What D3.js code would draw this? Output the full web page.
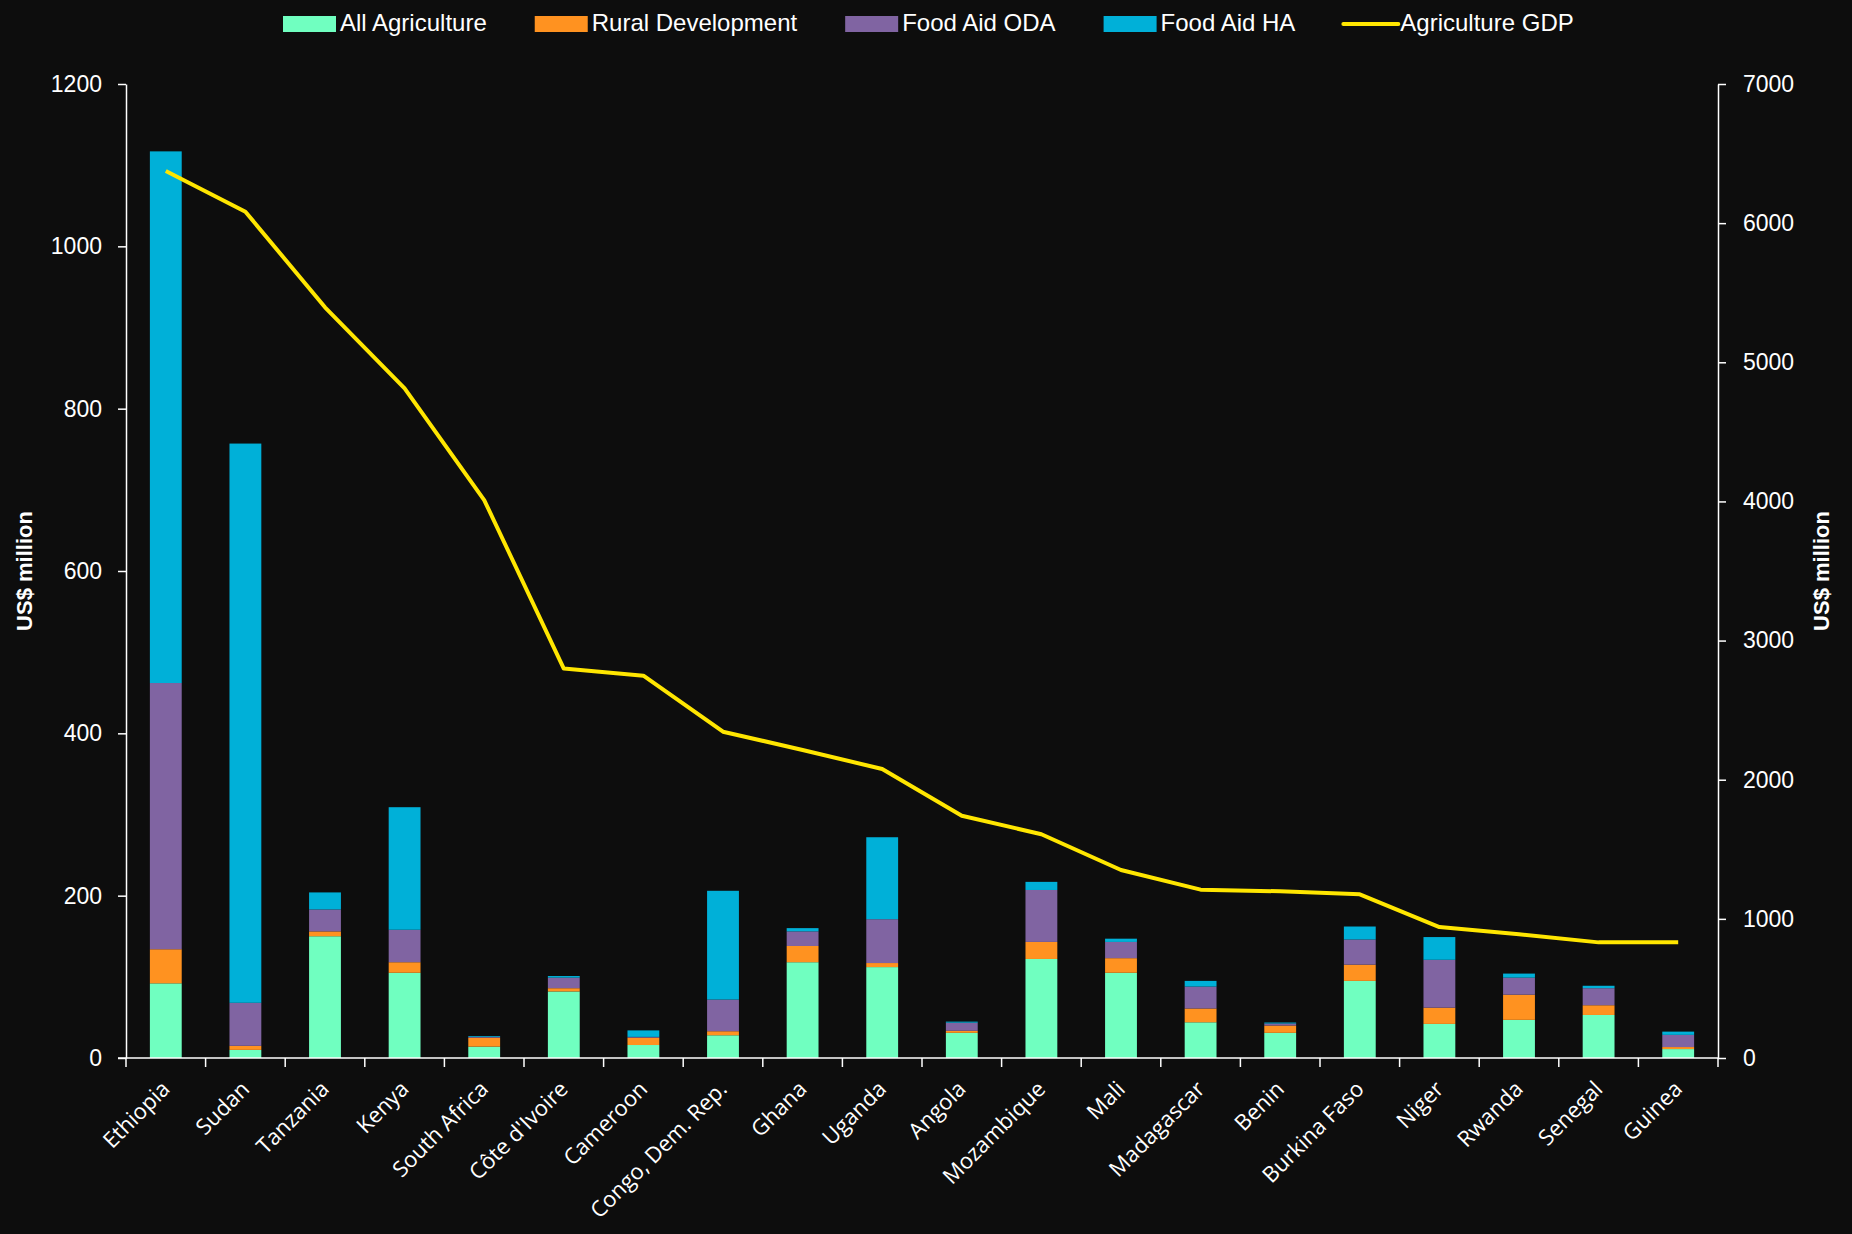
<!DOCTYPE html>
<html>
<head>
<meta charset="utf-8">
<script src="https://cdn.jsdelivr.net/npm/d3@7"></script>
<style>
  html, body { margin: 0; padding: 0; background: #0d0d0d; }
  svg { display: block; }
</style>
</head>
<body>
<svg id="chart" width="1852" height="1234"></svg>
<script>
const countries = ["Ethiopia","Sudan","Tanzania","Kenya","South Africa","Côte d'Ivoire","Cameroon","Congo, Dem. Rep.","Ghana","Uganda","Angola","Mozambique","Mali","Madagascar","Benin","Burkina Faso","Niger","Rwanda","Senegal","Guinea"];
const allAgriculture  = [92, 10, 150, 105, 14, 82, 16, 28, 118, 112, 31, 122, 105, 44, 31, 95, 42, 47, 53, 11];
const ruralDevelopment = [42, 5, 6, 13, 11, 4, 9, 5, 20, 5, 2.5, 21, 18, 17, 9, 20, 20, 31, 12, 2.5];
const foodAidODA      = [328, 53, 27, 40, 1, 13, 1, 39, 18, 54, 10, 64, 20, 27, 2.5, 31, 59, 21, 21, 15];
const foodAidHA       = [655, 689, 21, 151, 1, 2, 8, 134, 4, 101, 1.3, 10, 4, 7, 1.2, 16, 28, 5, 3, 4];
const agricultureGDP  = [6375, 6082, 5395, 4813, 4010, 2799, 2748, 2345, 2214, 2077, 1741, 1608, 1351, 1210, 1198, 1176, 941, 889, 831, 831];
const seriesNames = ["All Agriculture","Rural Development","Food Aid ODA","Food Aid HA"];
const lineName = "Agriculture GDP";
const leftTicks = [0, 200, 400, 600, 800, 1000, 1200];
const rightTicks = [0, 1000, 2000, 3000, 4000, 5000, 6000, 7000];

const colors = ["#70ffc0", "#ff9220", "#8064a2", "#00b0d8"];
const lineColor = "#ffe600";
const FONT = "'Liberation Sans', Arial, sans-serif";
const LABEL_FONT = "'Open Sans', 'Liberation Sans', sans-serif";

const svg = d3.select("#chart");
const pLeft = 126, pRight = 1718, pTop = 84, pBottom = 1058;

const x = d3.scaleBand().domain(countries).range([pLeft, pRight]).paddingInner(0.6).paddingOuter(0.3);
const yL = d3.scaleLinear().domain([0, 1200]).range([pBottom, pTop]);
const yR = d3.scaleLinear().domain([0, 7000]).range([pBottom, pTop]);

const rows = countries.map((c, i) => ({
  country: c,
  [seriesNames[0]]: allAgriculture[i],
  [seriesNames[1]]: ruralDevelopment[i],
  [seriesNames[2]]: foodAidODA[i],
  [seriesNames[3]]: foodAidHA[i]
}));
const stacked = d3.stack().keys(seriesNames)(rows);

// bars
svg.append("g").selectAll("g").data(stacked).join("g")
  .attr("fill", (d, i) => colors[i])
  .selectAll("rect").data(d => d).join("rect")
  .attr("x", d => x(d.data.country))
  .attr("width", x.bandwidth())
  .attr("y", d => yL(d[1]))
  .attr("height", d => yL(d[0]) - yL(d[1]));

// line
const line = d3.line()
  .x((d, i) => x(countries[i]) + x.bandwidth() / 2)
  .y(d => yR(d));
svg.append("path").datum(agricultureGDP)
  .attr("d", line)
  .attr("fill", "none")
  .attr("stroke", lineColor)
  .attr("stroke-width", 4)
  .attr("stroke-linejoin", "round");

// axes
function styleAxis(g) {
  g.selectAll("path, line").attr("stroke", "#ffffff").attr("stroke-width", 1.5);
  g.selectAll("text").attr("fill", "#ffffff").attr("font-family", FONT).attr("font-size", 23);
}
svg.append("g").attr("transform", `translate(${pLeft},0)`)
  .call(d3.axisLeft(yL).tickValues(leftTicks).tickFormat(d3.format("d")).tickSize(8).tickPadding(16).tickSizeOuter(0))
  .call(styleAxis);
svg.append("g").attr("transform", `translate(${pRight},0)`)
  .call(d3.axisRight(yR).tickValues(rightTicks).tickFormat(d3.format("d")).tickSize(8).tickPadding(17).tickSizeOuter(0))
  .call(styleAxis);

// x axis: ticks at band boundaries
const xb = svg.append("g");
xb.append("line").attr("x1", pLeft - 8).attr("x2", pRight).attr("y1", pBottom).attr("y2", pBottom)
  .attr("stroke", "#ffffff").attr("stroke-width", 1.5);
const step = x.step();
const boundaries = d3.range(countries.length + 1).map(i => x(countries[0]) - x.paddingOuter() * step + i * step);
xb.selectAll("line.tk").data(boundaries).join("line").attr("class", "tk")
  .attr("x1", d => d).attr("x2", d => d).attr("y1", pBottom).attr("y2", pBottom + 9)
  .attr("stroke", "#ffffff").attr("stroke-width", 1.5);
xb.selectAll("text").data(countries).join("text")
  .attr("transform", d => `translate(${x(d) + x.bandwidth() / 2},${pBottom + 27}) rotate(-45)`)
  .attr("text-anchor", "end")
  .attr("dy", "0.35em")
  .attr("fill", "#ffffff")
  .attr("font-family", LABEL_FONT)
  .attr("font-size", 22)
  .text(d => d);

// axis titles
svg.append("text")
  .attr("transform", `translate(${24},${(pTop + pBottom) / 2}) rotate(-90)`)
  .attr("text-anchor", "middle").attr("dy", "0.35em")
  .attr("fill", "#ffffff").attr("font-family", FONT).attr("font-weight", "bold").attr("font-size", 22)
  .text("US$ million");
svg.append("text")
  .attr("transform", `translate(${1821},${(pTop + pBottom) / 2}) rotate(-90)`)
  .attr("text-anchor", "middle").attr("dy", "0.35em")
  .attr("fill", "#ffffff").attr("font-family", FONT).attr("font-weight", "bold").attr("font-size", 22)
  .text("US$ million");

// legend
const legend = svg.append("g");
const legendItems = seriesNames.map((n, i) => ({ name: n, color: colors[i], type: "rect" }))
  .concat([{ name: lineName, color: lineColor, type: "line" }]);
let lx = 283;
legendItems.forEach(it => {
  if (it.type === "rect") {
    legend.append("rect").attr("x", lx).attr("y", 16).attr("width", 53).attr("height", 16).attr("fill", it.color);
  } else {
    legend.append("line").attr("x1", lx).attr("x2", lx + 55).attr("y1", 24).attr("y2", 24)
      .attr("stroke", it.color).attr("stroke-width", 4).attr("stroke-linecap", "round");
  }
  const t = legend.append("text").attr("x", lx + 57).attr("y", 31)
    .attr("fill", "#ffffff").attr("font-family", FONT).attr("font-size", 24).text(it.name);
  const w = t.node().getComputedTextLength();
  lx = lx + 57 + w + 48;
});
</script>
</body>
</html>
